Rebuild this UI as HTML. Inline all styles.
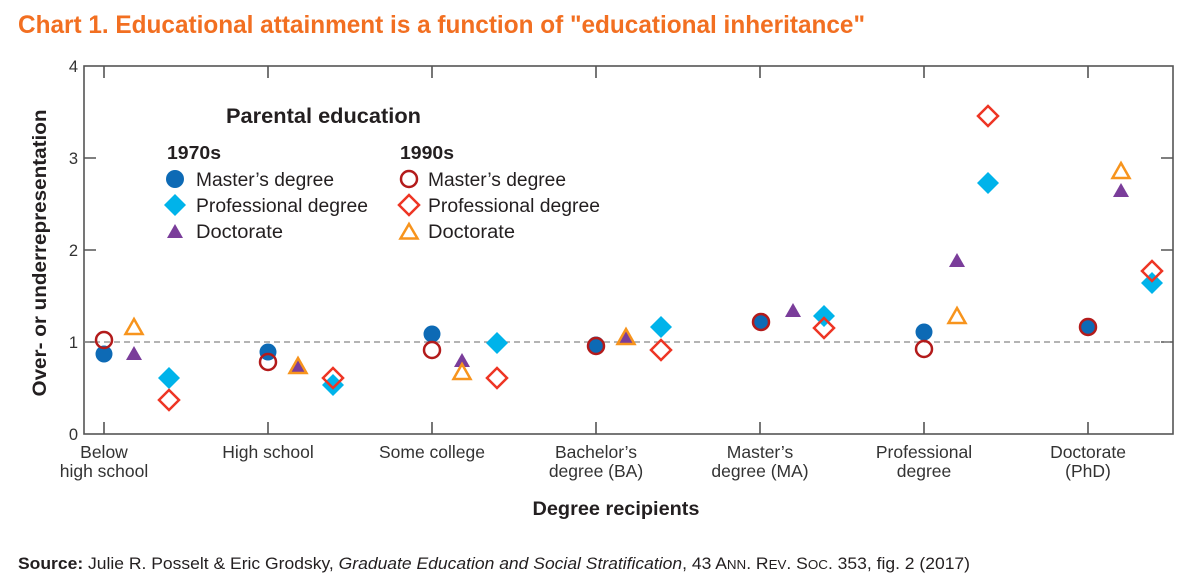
<!DOCTYPE html>
<html><head><meta charset="utf-8"><style>
html,body{margin:0;padding:0;background:#fff;}
svg{display:block;}
text{font-family:"Liberation Sans",Arial,sans-serif;}
</style></head><body>
<svg width="1200" height="584" viewBox="0 0 1200 584" xmlns="http://www.w3.org/2000/svg">
<!-- Title -->
<text x="18" y="33" font-size="25" font-weight="bold" fill="#f26f21" textLength="847" lengthAdjust="spacingAndGlyphs">Chart 1. Educational attainment is a function of "educational inheritance"</text>

<!-- Axes frame -->
<g stroke="#555" stroke-width="1.6" fill="none">
<rect x="84" y="66" width="1089" height="368"/>
<path d="M104 66V78M268 66V78M432 66V78M596 66V78M760 66V78M924 66V78M1088 66V78"/>
<path d="M104 434V422M268 434V422M432 434V422M596 434V422M760 434V422M924 434V422M1088 434V422"/>
<path d="M84 342H96M84 250H96M84 158H96"/>
<path d="M1173 342H1161M1173 250H1161M1173 158H1161"/>
</g>
<line x1="84" y1="342" x2="1173" y2="342" stroke="#888" stroke-width="1.3" stroke-dasharray="6,4"/>

<g font-size="16.5" fill="#333" text-anchor="end">
<text x="78" y="72">4</text>
<text x="78" y="164">3</text>
<text x="78" y="256">2</text>
<text x="78" y="348">1</text>
<text x="78" y="440">0</text>
</g>
<text transform="translate(46,253) rotate(-90)" text-anchor="middle" font-size="19" font-weight="bold" fill="#231f20" textLength="287" lengthAdjust="spacingAndGlyphs">Over- or underrepresentation</text>

<g font-size="17.5" fill="#333" text-anchor="middle">
<text x="104" y="458">Below</text><text x="104" y="477">high school</text>
<text x="268" y="458">High school</text>
<text x="432" y="458">Some college</text>
<text x="596" y="458">Bachelor’s</text><text x="596" y="477">degree (BA)</text>
<text x="760" y="458">Master’s</text><text x="760" y="477">degree (MA)</text>
<text x="924" y="458">Professional</text><text x="924" y="477">degree</text>
<text x="1088" y="458">Doctorate</text><text x="1088" y="477">(PhD)</text>
</g>
<text x="616" y="515" text-anchor="middle" font-size="19" font-weight="bold" fill="#231f20" textLength="167" lengthAdjust="spacingAndGlyphs">Degree recipients</text>

<!-- Legend -->
<text x="226" y="123" font-size="21" font-weight="bold" fill="#231f20" textLength="195" lengthAdjust="spacingAndGlyphs">Parental education</text>
<text x="167" y="159" font-size="18" font-weight="bold" fill="#231f20" textLength="54" lengthAdjust="spacingAndGlyphs">1970s</text>
<text x="400" y="159" font-size="18" font-weight="bold" fill="#231f20" textLength="54" lengthAdjust="spacingAndGlyphs">1990s</text>
<g font-size="19" fill="#231f20">
<text x="196" y="186" textLength="138" lengthAdjust="spacingAndGlyphs">Master’s degree</text>
<text x="196" y="212" textLength="172" lengthAdjust="spacingAndGlyphs">Professional degree</text>
<text x="196" y="238" textLength="87" lengthAdjust="spacingAndGlyphs">Doctorate</text>
<text x="428" y="186" textLength="138" lengthAdjust="spacingAndGlyphs">Master’s degree</text>
<text x="428" y="212" textLength="172" lengthAdjust="spacingAndGlyphs">Professional degree</text>
<text x="428" y="238" textLength="87" lengthAdjust="spacingAndGlyphs">Doctorate</text>
</g>
<circle cx="175" cy="179" r="9" fill="#0d6ab5"/>
<path d="M175 194L186 205L175 216L164 205Z" fill="#00b3ea"/>
<path d="M175 224L183 238L167 238Z" fill="#7a3d9a"/>
<circle cx="409" cy="179" r="8" fill="none" stroke="#b31b1b" stroke-width="2.5"/>
<path d="M409 195L419 205L409 215L399 205Z" fill="none" stroke="#ee3524" stroke-width="2.5"/>
<path d="M409 224L417.5 238.5L400.5 238.5Z" fill="none" stroke="#f7941d" stroke-width="2.5" stroke-linejoin="miter"/>

<defs>
<circle id="fc" r="8.5" fill="#0d6ab5"/>
<circle id="oc" r="8" fill="none" stroke="#b31b1b" stroke-width="2.5"/>
<path id="fd" d="M0 -11L11 0L0 11L-11 0Z" fill="#00b3ea"/>
<path id="od" d="M0 -10L10 0L0 10L-10 0Z" fill="none" stroke="#ee3524" stroke-width="2.5"/>
<path id="ft" d="M0 -8L8 6L-8 6Z" fill="#7a3d9a"/>
<path id="ot" d="M0 -9L8.5 6L-8.5 6Z" fill="none" stroke="#f7941d" stroke-width="2.5"/>
</defs>

<use href="#fc" x="104" y="354"/>
<use href="#ft" x="134" y="354"/>
<use href="#fd" x="169" y="378"/>
<use href="#oc" x="104" y="340"/>
<use href="#ot" x="134" y="328"/>
<use href="#od" x="169" y="400"/>

<use href="#fc" x="268" y="352"/>
<use href="#ft" x="298" y="368"/>
<use href="#fd" x="333" y="385"/>
<use href="#oc" x="268" y="362"/>
<use href="#ot" x="298" y="367"/>
<use href="#od" x="333" y="378"/>

<use href="#fc" x="432" y="334"/>
<use href="#ft" x="462" y="361"/>
<use href="#fd" x="497" y="343"/>
<use href="#oc" x="432" y="350"/>
<use href="#ot" x="462" y="373"/>
<use href="#od" x="497" y="378"/>

<use href="#fc" x="596" y="345"/>
<use href="#ft" x="626" y="339"/>
<use href="#fd" x="661" y="327"/>
<use href="#oc" x="596" y="346"/>
<use href="#ot" x="626" y="338"/>
<use href="#od" x="661" y="350"/>

<use href="#fc" x="761" y="322"/>
<use href="#ft" x="793" y="311"/>
<use href="#fd" x="824" y="316"/>
<use href="#oc" x="761" y="322"/>
<use href="#od" x="824" y="328"/>

<use href="#fc" x="924" y="332"/>
<use href="#ft" x="957" y="261"/>
<use href="#fd" x="988" y="183"/>
<use href="#oc" x="924" y="349"/>
<use href="#ot" x="957" y="317"/>
<use href="#od" x="988" y="116"/>

<use href="#fc" x="1088" y="327"/>
<use href="#ft" x="1121" y="191"/>
<use href="#fd" x="1152" y="283"/>
<use href="#oc" x="1088" y="327"/>
<use href="#ot" x="1121" y="172"/>
<use href="#od" x="1152" y="271"/>

<text x="18" y="569" font-size="17" fill="#231f20" textLength="952" lengthAdjust="spacingAndGlyphs"><tspan font-weight="bold">Source:</tspan> Julie R. Posselt &amp; Eric Grodsky, <tspan font-style="italic">Graduate Education and Social Stratification</tspan>, 43 A<tspan font-size="13">NN</tspan>. R<tspan font-size="13">EV</tspan>. S<tspan font-size="13">OC</tspan>. 353, fig. 2 (2017)</text>
</svg>
</body></html>
